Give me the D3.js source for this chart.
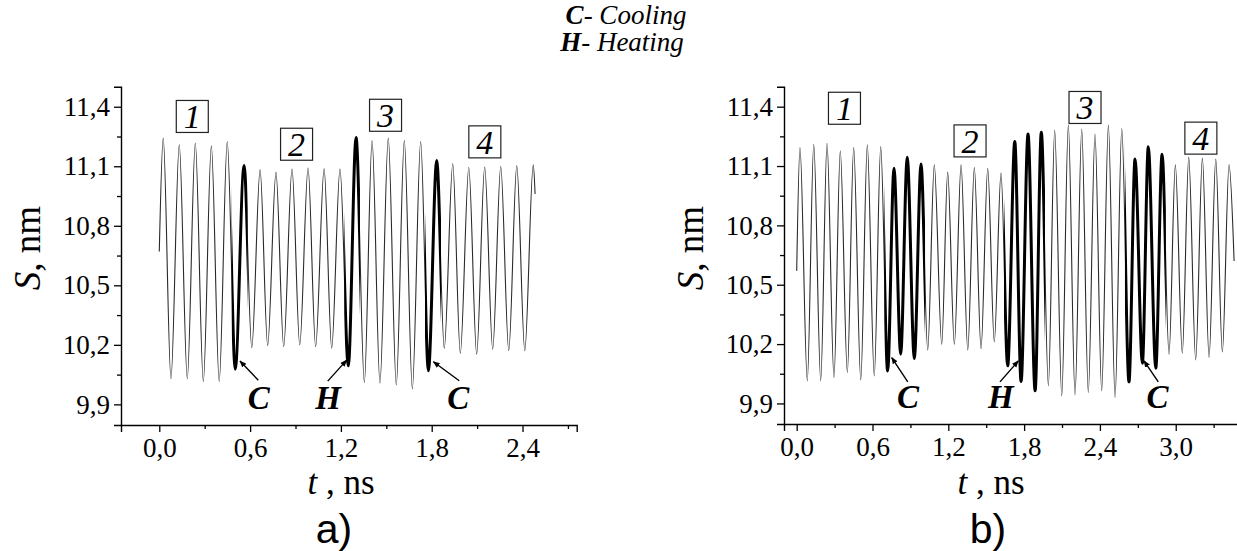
<!DOCTYPE html>
<html>
<head>
<meta charset="utf-8">
<script src="https://cdn.jsdelivr.net/npm/d3@7"></script>
<style>
  body { margin: 0; background: #fff; }
  svg { display: block; }
  text { font-family: "Liberation Serif", "Times New Roman", Times, serif; fill: #000; }
</style>
</head>
<body>
<svg id="fig" width="1237" height="551"></svg>
<script>
// ---- axis ticks (shared S axis) ----
const yTicks = [9.9, 10.2, 10.5, 10.8, 11.1, 11.4];
const yTickLabels = ["9,9", "10,2", "10,5", "10,8", "11,1", "11,4"];
const yMinor = [10.05, 10.35, 10.65, 10.95, 11.25];

const xTicksA = [0, 0.6, 1.2, 1.8, 2.4];
const xTickLabelsA = ["0,0", "0,6", "1,2", "1,8", "2,4"];
const xMinorA = [0.3, 0.9, 1.5, 2.1, 2.7];

const xTicksB = [0, 0.6, 1.2, 1.8, 2.4, 3.0];
const xTickLabelsB = ["0,0", "0,6", "1,2", "1,8", "2,4", "3,0"];
const xMinorB = [0.3, 0.9, 1.5, 2.1, 2.7, 3.3];

// ---- panel a: S(t) turning points, ns / nm ----
const timeA = [0, 0.026, 0.077, 0.132, 0.185, 0.238, 0.291, 0.344, 0.396, 0.449, 0.502,
  0.560, 0.611, 0.666, 0.716, 0.771, 0.822, 0.877, 0.928, 0.983, 1.033,
  1.089, 1.139, 1.194, 1.249, 1.300, 1.355, 1.406, 1.458, 1.513, 1.566,
  1.619, 1.672, 1.727, 1.778, 1.833, 1.883, 1.939, 1.989, 2.045, 2.097,
  2.150, 2.203, 2.256, 2.309, 2.362, 2.415, 2.471, 2.483];
const sizeA = [10.67, 11.242, 10.029, 11.208, 10.029, 11.217, 10.015, 11.203, 10.015, 11.225, 10.077,
  11.104, 10.186, 11.082, 10.196, 11.069, 10.191, 11.086, 10.200, 11.091, 10.191,
  11.087, 10.183, 11.086, 10.094, 11.245, 10.010, 11.229, 10.007, 11.242, 9.998,
  11.229, 9.978, 11.225, 10.069, 11.129, 10.183, 11.113, 10.158, 11.094, 10.153,
  11.096, 10.178, 11.099, 10.171, 11.102, 10.171, 11.108, 10.96];
// intervals of temperature switching (drawn bold)
const switchStartA = [0.478, 1.222, 1.756];
const switchEndA = [0.584, 1.326, 1.861];

// ---- panel b ----
const timeB = [0, 0.026, 0.084, 0.135, 0.190, 0.240, 0.295, 0.345, 0.401, 0.451, 0.507,
  0.559, 0.614, 0.665, 0.720, 0.770, 0.823, 0.875, 0.931, 0.984, 1.037,
  1.089, 1.148, 1.195, 1.248, 1.301, 1.354, 1.406, 1.459, 1.512, 1.564,
  1.617, 1.670, 1.726, 1.776, 1.831, 1.887, 1.936, 1.992, 2.042, 2.098,
  2.150, 2.203, 2.256, 2.308, 2.361, 2.414, 2.467, 2.520, 2.573, 2.630,
  2.678, 2.736, 2.783, 2.842, 2.892, 2.947, 2.997, 3.052, 3.103, 3.158,
  3.211, 3.264, 3.317, 3.369, 3.422, 3.462];
const sizeB = [10.57, 11.193, 10.014, 11.210, 10.014, 11.215, 10.031, 11.177, 10.056, 11.193, 10.019,
  11.207, 10.039, 11.198, 10.064, 11.089, 10.149, 11.145, 10.127, 11.110, 10.170,
  11.106, 10.199, 11.069, 10.199, 11.106, 10.170, 11.092, 10.177, 11.089, 10.211,
  11.064, 10.090, 11.224, 10.011, 11.262, 9.964, 11.271, 9.989, 11.282, 9.938,
  11.307, 9.943, 11.287, 9.955, 11.262, 9.964, 11.307, 9.930, 11.290, 10.009,
  11.136, 10.103, 11.198, 10.078, 11.160, 10.149, 11.106, 10.154, 11.145, 10.120,
  11.140, 10.132, 11.135, 10.160, 11.106, 10.62];
const switchStartB = [0.693, 1.641, 2.598];
const switchEndB = [1.016, 1.966, 2.922];

// ---- regime labels (boxed numbers) ----
const regimeNames = ["1", "2", "3", "4"];
const regimeTA = [0.218, 0.907, 1.495, 2.151];
const regimeSA = [11.351, 11.211, 11.357, 11.223];
const regimeTB = [0.378, 1.372, 2.282, 3.199];
const regimeSB = [11.392, 11.227, 11.396, 11.241];

// ---- C / H markers: arrow tip, arrow tail, letter position ----
const markNames = ["C", "H", "C"];
const markTipTA = [0.533, 1.238, 1.811], markTipSA = [10.118, 10.123, 10.115];
const markTailTA = [0.654, 1.113, 1.982], markTailSA = [10.022, 10.017, 10.019];
const markTextTA = [0.657, 1.115, 1.976];
const markTipTB = [0.752, 1.754, 2.749], markTipSB = [10.132, 10.115, 10.115];
const markTailTB = [0.879, 1.609, 2.862], markTailSB = [10.009, 10.009, 10.009];
const markTextTB = [0.881, 1.615, 2.855];
const markTextS = 9.876;

const SERIF = "'Liberation Serif', 'Times New Roman', Times, serif";
const svg = d3.select("#fig").attr("font-family", SERIF);

svg.append("defs").append("marker")
  .attr("id", "arrowhead")
  .attr("viewBox", "0 0 10 10")
  .attr("refX", 9).attr("refY", 5)
  .attr("markerWidth", 7).attr("markerHeight", 7)
  .attr("markerUnits", "userSpaceOnUse")
  .attr("orient", "auto")
  .append("path").attr("d", "M0,1 L10,5 L0,9 Z").attr("fill", "#000");

function drawPanel(cfg) {
  const x = d3.scaleLinear().domain(cfg.xDomain).range(cfg.xRange);
  const y = d3.scaleLinear().domain([9.796, 11.501]).range([cfg.yBottom, 86.7]);
  const g = svg.append("g");

  // y axis: major and minor ticks
  const yAxis = d3.axisLeft(y).tickValues(yTicks).tickSize(7).tickPadding(4)
    .tickFormat((d, i) => yTickLabels[i]);
  const gy = g.append("g").attr("transform", `translate(${cfg.xRange[0]},0)`).call(yAxis);
  g.append("g").attr("transform", `translate(${cfg.xRange[0]},0)`)
    .call(d3.axisLeft(y).tickValues(yMinor).tickSize(4).tickFormat(""))
    .select(".domain").remove();

  // x axis
  const xAxis = d3.axisBottom(x).tickValues(cfg.xTicks).tickSize(7).tickPadding(6)
    .tickFormat((d, i) => cfg.xLabels[i]);
  const gx = g.append("g").attr("transform", `translate(0,${cfg.yBottom})`).call(xAxis);
  g.append("g").attr("transform", `translate(0,${cfg.yBottom})`)
    .call(d3.axisBottom(x).tickValues(cfg.xMinor).tickSize(4).tickFormat(""))
    .select(".domain").remove();

  [gy, gx].forEach(a => {
    a.attr("font-family", SERIF);
    a.selectAll("text").style("font-family", SERIF).style("font-size", "27px").attr("fill", "#000");
  });
  g.selectAll(".domain").attr("stroke", "#000").attr("stroke-width", 1.4);
  g.selectAll(".tick line").attr("stroke", "#000").attr("stroke-width", 1.3);

  // signal
  const pts = cfg.time.map((t, i) => [t, cfg.size[i]]);
  const line = d3.line().x(d => x(d[0])).y(d => y(d[1])).curve(d3.curveMonotoneX);
  g.append("path").datum(pts).attr("d", line)
    .attr("fill", "none").attr("stroke", "#2a2a2a").attr("stroke-width", 1.1);

  // bold parts: switching intervals
  cfg.swStart.forEach((t0, i) => {
    const id = `clip-${cfg.id}-${i}`;
    svg.select("defs").append("clipPath").attr("id", id)
      .append("rect")
      .attr("x", x(t0)).attr("width", x(cfg.swEnd[i]) - x(t0))
      .attr("y", 80).attr("height", cfg.yBottom - 80);
    g.append("path").datum(pts).attr("d", line)
      .attr("clip-path", `url(#${id})`)
      .attr("fill", "none").attr("stroke", "#000").attr("stroke-width", 3);
  });

  // boxed regime numbers
  regimeNames.forEach((n, i) => {
    const cx = x(cfg.regT[i]), cy = y(cfg.regS[i]);
    g.append("rect").attr("x", cx - 16).attr("y", cy - 16).attr("width", 32).attr("height", 32)
      .attr("fill", "#fff").attr("stroke", "#222").attr("stroke-width", 1.2);
    g.append("text").attr("x", cx).attr("y", cy + 12).attr("text-anchor", "middle")
      .style("font-family", SERIF)
      .style("font-size", "34px").style("font-style", "italic").text(n);
  });

  // C / H arrows and letters
  markNames.forEach((m, i) => {
    g.append("line")
      .attr("x1", x(cfg.tailT[i])).attr("y1", y(cfg.tailS[i]))
      .attr("x2", x(cfg.tipT[i])).attr("y2", y(cfg.tipS[i]))
      .attr("stroke", "#000").attr("stroke-width", 1.4)
      .attr("marker-end", "url(#arrowhead)");
    g.append("text").attr("x", x(cfg.textT[i])).attr("y", y(markTextS))
      .attr("text-anchor", "middle").style("font-family", SERIF)
      .style("font-size", "33px").style("font-style", "italic").style("font-weight", "bold")
      .text(m);
  });

  // axis titles
  const yt = g.append("text")
    .attr("transform", `translate(${cfg.yTitleX},248) rotate(-90)`)
    .attr("text-anchor", "middle").attr("dy", "0.35em")
    .style("font-family", SERIF).style("font-size", "37px");
  yt.append("tspan").style("font-style", "italic").text("S");
  yt.append("tspan").text(", nm");

  const xt = g.append("text").attr("x", cfg.xTitleX).attr("y", 494)
    .attr("text-anchor", "middle").style("font-family", SERIF).style("font-size", "35px");
  xt.append("tspan").style("font-style", "italic").text("t");
  xt.append("tspan").text(" , ns");

  g.append("text").attr("x", cfg.tagX).attr("y", 543).attr("text-anchor", "middle")
    .style("font-family", "'Liberation Sans', Arial, sans-serif").style("font-size", "41px").text(cfg.tag);
}

drawPanel({
  id: "a", xDomain: [-0.253, 2.758], xRange: [121, 576.7], yBottom: 425,
  xTicks: xTicksA, xLabels: xTickLabelsA, xMinor: xMinorA,
  time: timeA, size: sizeA, swStart: switchStartA, swEnd: switchEndA,
  regT: regimeTA, regS: regimeSA,
  tipT: markTipTA, tipS: markTipSA, tailT: markTailTA, tailS: markTailSA, textT: markTextTA,
  yTitleX: 27, xTitleX: 341, tagX: 334, tag: "a)"
});

drawPanel({
  id: "b", xDomain: [-0.1005, 3.5], xRange: [784, 1238.9], yBottom: 424,
  xTicks: xTicksB, xLabels: xTickLabelsB, xMinor: xMinorB,
  time: timeB, size: sizeB, swStart: switchStartB, swEnd: switchEndB,
  regT: regimeTB, regS: regimeSB,
  tipT: markTipTB, tipS: markTipSB, tailT: markTailTB, tailS: markTailSB, textT: markTextTB,
  yTitleX: 690, xTitleX: 991, tagX: 988, tag: "b)"
});

// legend of marker letters
const legend = [["C", "- Cooling", 626, 24], ["H", "- Heating", 622, 51]];
legend.forEach(([k, desc, lx, ly]) => {
  const t = svg.append("text").attr("x", lx).attr("y", ly).attr("text-anchor", "middle")
    .style("font-family", SERIF).style("font-size", "27px").style("font-style", "italic");
  t.append("tspan").style("font-weight", "bold").text(k);
  t.append("tspan").text(desc);
});
</script>
</body>
</html>
